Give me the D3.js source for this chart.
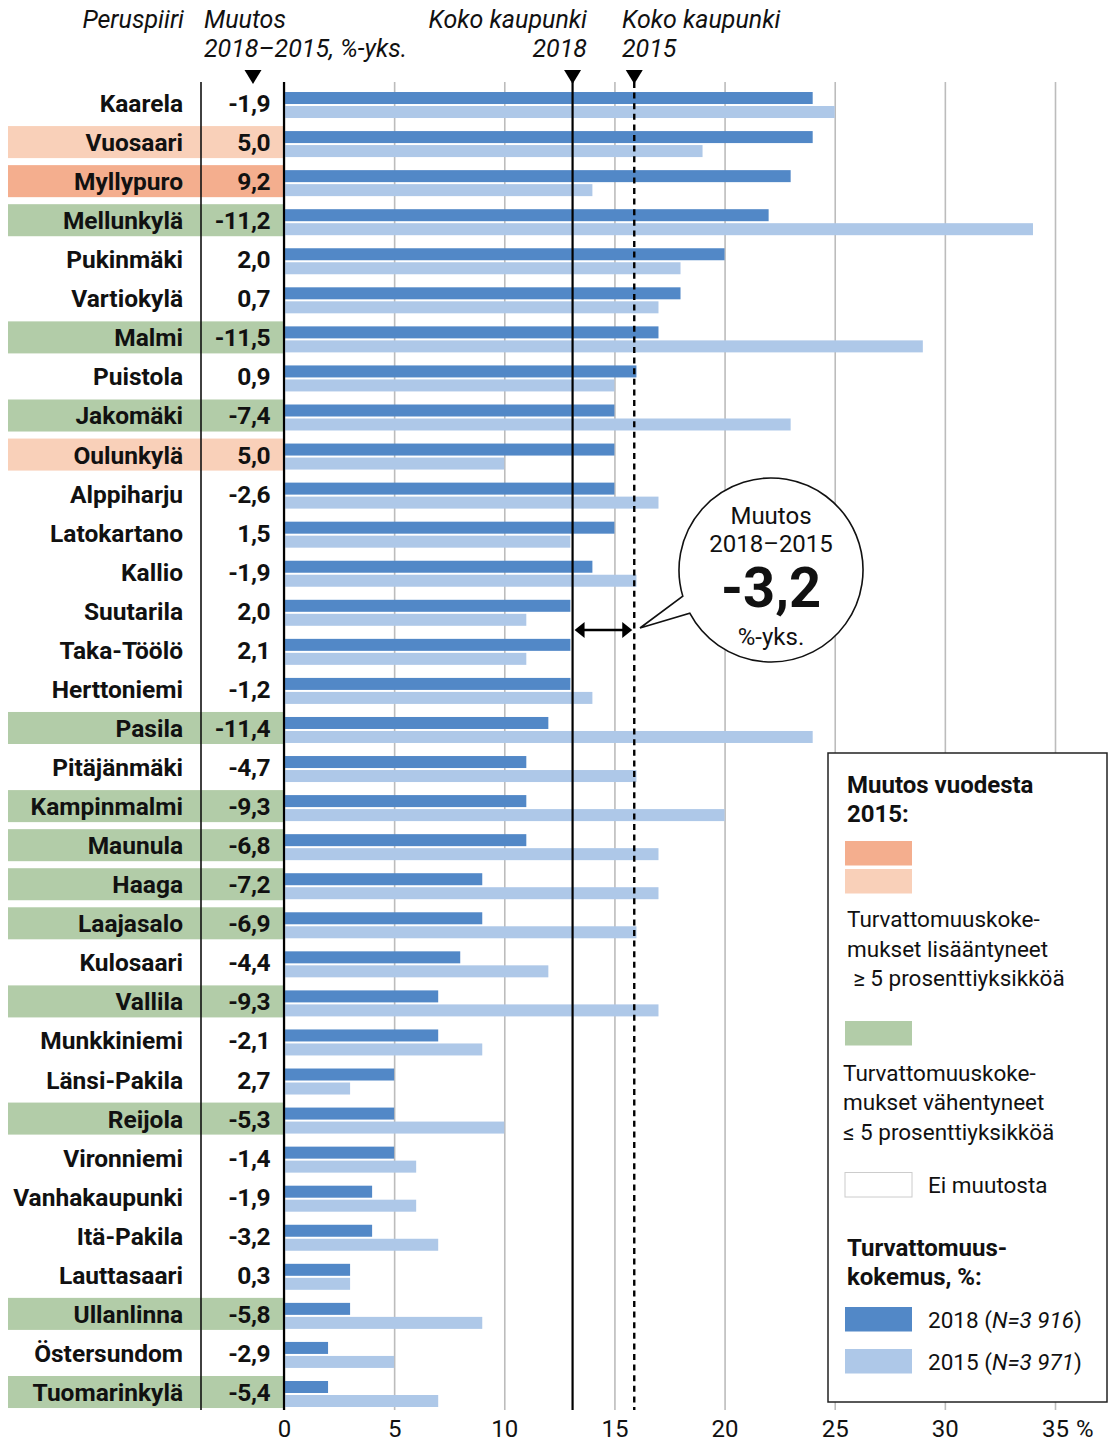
<!DOCTYPE html>
<html>
<head>
<meta charset="utf-8">
<script src="https://cdn.jsdelivr.net/npm/d3@7"></script>
<style>
  body { margin: 0; background: #fff; }
  svg text { font-family: Roboto, "Liberation Sans", sans-serif; fill: #111; }
</style>
</head>
<body>
<svg id="chart"></svg>
<script>
// data
var districts = ["Kaarela", "Vuosaari", "Myllypuro", "Mellunkylä", "Pukinmäki", "Vartiokylä",
  "Malmi", "Puistola", "Jakomäki", "Oulunkylä", "Alppiharju", "Latokartano", "Kallio",
  "Suutarila", "Taka-Töölö", "Herttoniemi", "Pasila", "Pitäjänmäki", "Kampinmalmi",
  "Maunula", "Haaga", "Laajasalo", "Kulosaari", "Vallila", "Munkkiniemi", "Länsi-Pakila",
  "Reijola", "Vironniemi", "Vanhakaupunki", "Itä-Pakila", "Lauttasaari", "Ullanlinna",
  "Östersundom", "Tuomarinkylä"];
var change = [-1.9, 5.0, 9.2, -11.2, 2.0, 0.7, -11.5, 0.9, -7.4, 5.0, -2.6, 1.5, -1.9,
  2.0, 2.1, -1.2, -11.4, -4.7, -9.3, -6.8, -7.2, -6.9, -4.4, -9.3, -2.1, 2.7, -5.3, -1.4,
  -1.9, -3.2, 0.3, -5.8, -2.9, -5.4];
var pct2018 = [24, 24, 23, 22, 20, 18, 17, 16, 15, 15, 15, 15, 14, 13, 13, 13, 12, 11, 11,
  11, 9, 9, 8, 7, 7, 5, 5, 5, 4, 4, 3, 3, 2, 2];
var pct2015 = [25, 19, 14, 34, 18, 17, 29, 15, 23, 10, 17, 13, 16, 11, 11, 14, 24, 16, 20,
  17, 17, 16, 12, 17, 9, 3, 10, 6, 6, 7, 3, 9, 5, 7];
var city2018 = 13.1;
var city2015 = 15.9;
var cityChange = "-3,2";
var xTicks = [0, 5, 10, 15, 20, 25, 30, 35];

var W = 1110, H = 1442;
var c2018 = "#5288c7", c2015 = "#aec8e8";
var cUpBig = "#f4ae8e", cUp = "#f9d0b9", cDown = "#b2cca8";

var svg = d3.select("#chart").attr("width", W).attr("height", H);

var fmt = function(v) { return v.toFixed(1).replace(".", ","); };
var bandColor = function(v) {
  if (v >= 9) return cUpBig;
  if (v >= 5) return cUp;
  if (v <= -5) return cDown;
  return null;
};

var rows = districts.map(function(d, i) {
  return { name: d, change: change[i], v18: pct2018[i], v15: pct2015[i] };
});

var x = d3.scaleLinear().domain([0, 35]).range([284, 1055]);
var y = d3.scaleBand().domain(districts)
  .range([83.5, 83.5 + 34 * 39.06])
  .paddingInner(0.18).paddingOuter(0.09);

var yTop = 82, yBottom = 1410;

// highlight bands
svg.append("g").selectAll("rect")
  .data(rows.filter(function(r) { return bandColor(r.change); }))
  .join("rect")
  .attr("x", 8).attr("width", x(0) - 8)
  .attr("y", function(r) { return y(r.name); })
  .attr("height", y.bandwidth())
  .attr("fill", function(r) { return bandColor(r.change); });

// gridlines + tick labels
var xAxis = svg.append("g")
  .attr("transform", "translate(0," + yBottom + ")")
  .call(d3.axisBottom(x).tickValues(xTicks).tickSize(-(yBottom - yTop)).tickPadding(10));
xAxis.select(".domain").remove();
xAxis.selectAll(".tick line").attr("stroke", "#bcbcbc").attr("stroke-width", 1.6);
xAxis.selectAll(".tick text")
  .attr("font-size", 24).attr("fill", "#111")
  .style("font-family", "Roboto, sans-serif");
xAxis.append("text")
  .attr("x", x(35) + 21).attr("y", 10).attr("dy", "0.71em")
  .attr("font-size", 24).attr("text-anchor", "start")
  .text("%");

// bars
var bars = svg.append("g");
bars.selectAll("rect.b18").data(rows).join("rect")
  .attr("class", "b18")
  .attr("x", x(0)).attr("y", function(r) { return y(r.name) + 5; })
  .attr("width", function(r) { return x(r.v18) - x(0); })
  .attr("height", 12).attr("fill", c2018);
bars.selectAll("rect.b15").data(rows).join("rect")
  .attr("class", "b15")
  .attr("x", x(0)).attr("y", function(r) { return y(r.name) + 19; })
  .attr("width", function(r) { return x(r.v15) - x(0); })
  .attr("height", 12).attr("fill", c2015);

// row labels and change values
var labels = svg.append("g").attr("font-size", 24.5).attr("font-weight", 700);
labels.selectAll("text.name").data(rows).join("text")
  .attr("class", "name")
  .attr("x", 183).attr("y", function(r) { return y(r.name) + 25; })
  .attr("text-anchor", "end")
  .text(function(r) { return r.name; });
labels.selectAll("text.chg").data(rows).join("text")
  .attr("class", "chg")
  .attr("x", 270).attr("y", function(r) { return y(r.name) + 25; })
  .attr("text-anchor", "end")
  .attr("letter-spacing", -0.5)
  .text(function(r) { return fmt(r.change); });

// column separator and zero line
svg.append("line").attr("x1", 201).attr("x2", 201).attr("y1", yTop).attr("y2", yBottom)
  .attr("stroke", "#111").attr("stroke-width", 1.6);
svg.append("line").attr("x1", x(0)).attr("x2", x(0)).attr("y1", yTop).attr("y2", yBottom)
  .attr("stroke", "#000").attr("stroke-width", 2.2);

// whole-city lines
svg.append("line").attr("x1", x(city2018)).attr("x2", x(city2018))
  .attr("y1", yTop).attr("y2", yBottom)
  .attr("stroke", "#000").attr("stroke-width", 2.2);
svg.append("line").attr("x1", x(city2015)).attr("x2", x(city2015))
  .attr("y1", yTop).attr("y2", yBottom)
  .attr("stroke", "#000").attr("stroke-width", 2.4)
  .attr("stroke-dasharray", "6,4.6");

// header triangles
var tri = function(cx) {
  svg.append("path")
    .attr("d", "M" + (cx - 8.5) + ",70L" + (cx + 8.5) + ",70L" + cx + ",84Z")
    .attr("fill", "#000");
};
tri(253); tri(x(city2018)); tri(x(city2015));

// headers
var hdr = svg.append("g").attr("font-size", 25).attr("font-style", "italic");
hdr.append("text").attr("x", 184).attr("y", 28).attr("text-anchor", "end").text("Peruspiiri");
hdr.append("text").attr("x", 204).attr("y", 28).text("Muutos");
hdr.append("text").attr("x", 204).attr("y", 57).text("2018–2015, %-yks.");
hdr.append("text").attr("x", 587).attr("y", 28).attr("text-anchor", "end").text("Koko kaupunki");
hdr.append("text").attr("x", 587).attr("y", 57).attr("text-anchor", "end").text("2018");
hdr.append("text").attr("x", 622).attr("y", 28).text("Koko kaupunki");
hdr.append("text").attr("x", 622).attr("y", 57).text("2015");

// double arrow between city lines
var ay = 630;
var ax1 = x(city2018) + 2, ax2 = x(city2015) - 2;
svg.append("line").attr("x1", ax1 + 6).attr("x2", ax2 - 6).attr("y1", ay).attr("y2", ay)
  .attr("stroke", "#000").attr("stroke-width", 2.4);
svg.append("path")
  .attr("d", "M" + ax1 + "," + ay + "L" + (ax1 + 10) + "," + (ay - 8) + "L" + (ax1 + 10) + "," + (ay + 8) + "Z")
  .attr("fill", "#000");
svg.append("path")
  .attr("d", "M" + ax2 + "," + ay + "L" + (ax2 - 10) + "," + (ay - 8) + "L" + (ax2 - 10) + "," + (ay + 8) + "Z")
  .attr("fill", "#000");

// speech bubble
var bx = 771, by = 570, br = 92;
var a1 = 152 * Math.PI / 180, a2 = 163.5 * Math.PI / 180;
var p2 = [bx + br * Math.cos(a2), by + br * Math.sin(a2)];
var bubble = d3.path();
bubble.moveTo(p2[0], p2[1]);
bubble.arc(bx, by, br, a2, a1 + 2 * Math.PI);
bubble.lineTo(640, 628);
bubble.closePath();
svg.append("path").attr("d", bubble.toString())
  .attr("fill", "#fff").attr("stroke", "#111").attr("stroke-width", 1.6);
var bt = svg.append("g").attr("text-anchor", "middle");
bt.append("text").attr("x", bx).attr("y", 524).attr("font-size", 24).text("Muutos");
bt.append("text").attr("x", bx).attr("y", 552).attr("font-size", 24).text("2018–2015");
bt.append("text").attr("x", bx).attr("y", 607).attr("font-size", 56).attr("font-weight", 700).text(cityChange);
bt.append("text").attr("x", bx).attr("y", 645).attr("font-size", 24).text("%-yks.");

// legend
var lg = svg.append("g");
lg.append("rect").attr("x", 828).attr("y", 753).attr("width", 279).attr("height", 649)
  .attr("fill", "#fff").attr("stroke", "#222").attr("stroke-width", 1.5);
var sw = function(yy, fill, stroke) {
  lg.append("rect").attr("x", 845).attr("y", yy).attr("width", 67).attr("height", 24.5)
    .attr("fill", fill).attr("stroke", stroke || "none").attr("stroke-width", 1);
};
var lt = function(xx, yy, txt, bold) {
  return lg.append("text").attr("x", xx).attr("y", yy).attr("font-size", bold ? 24 : 22.5)
    .attr("font-weight", bold ? 700 : 400).text(txt);
};
lt(847, 793, "Muutos vuodesta", true);
lt(847, 822, "2015:", true);
sw(841, cUpBig);
sw(869, cUp);
lt(847, 927, "Turvattomuuskoke-");
lt(847, 957, "mukset lisääntyneet");
lt(853, 986, "≥ 5 prosenttiyksikköä");
sw(1021, cDown);
lt(843, 1081, "Turvattomuuskoke-");
lt(843, 1110, "mukset vähentyneet");
lt(843, 1140, "≤ 5 prosenttiyksikköä");
sw(1172.5, "#fff", "#ccc");
lt(928, 1193, "Ei muutosta");
lt(847, 1256, "Turvattomuus-", true);
lt(847, 1285, "kokemus, %:", true);
sw(1307, c2018);
var t1 = lt(928, 1328, "2018 (");
t1.append("tspan").attr("font-style", "italic").text("N=3 916");
t1.append("tspan").text(")");
sw(1349, c2015);
var t2 = lt(928, 1370, "2015 (");
t2.append("tspan").attr("font-style", "italic").text("N=3 971");
t2.append("tspan").text(")");
</script>
</body>
</html>
